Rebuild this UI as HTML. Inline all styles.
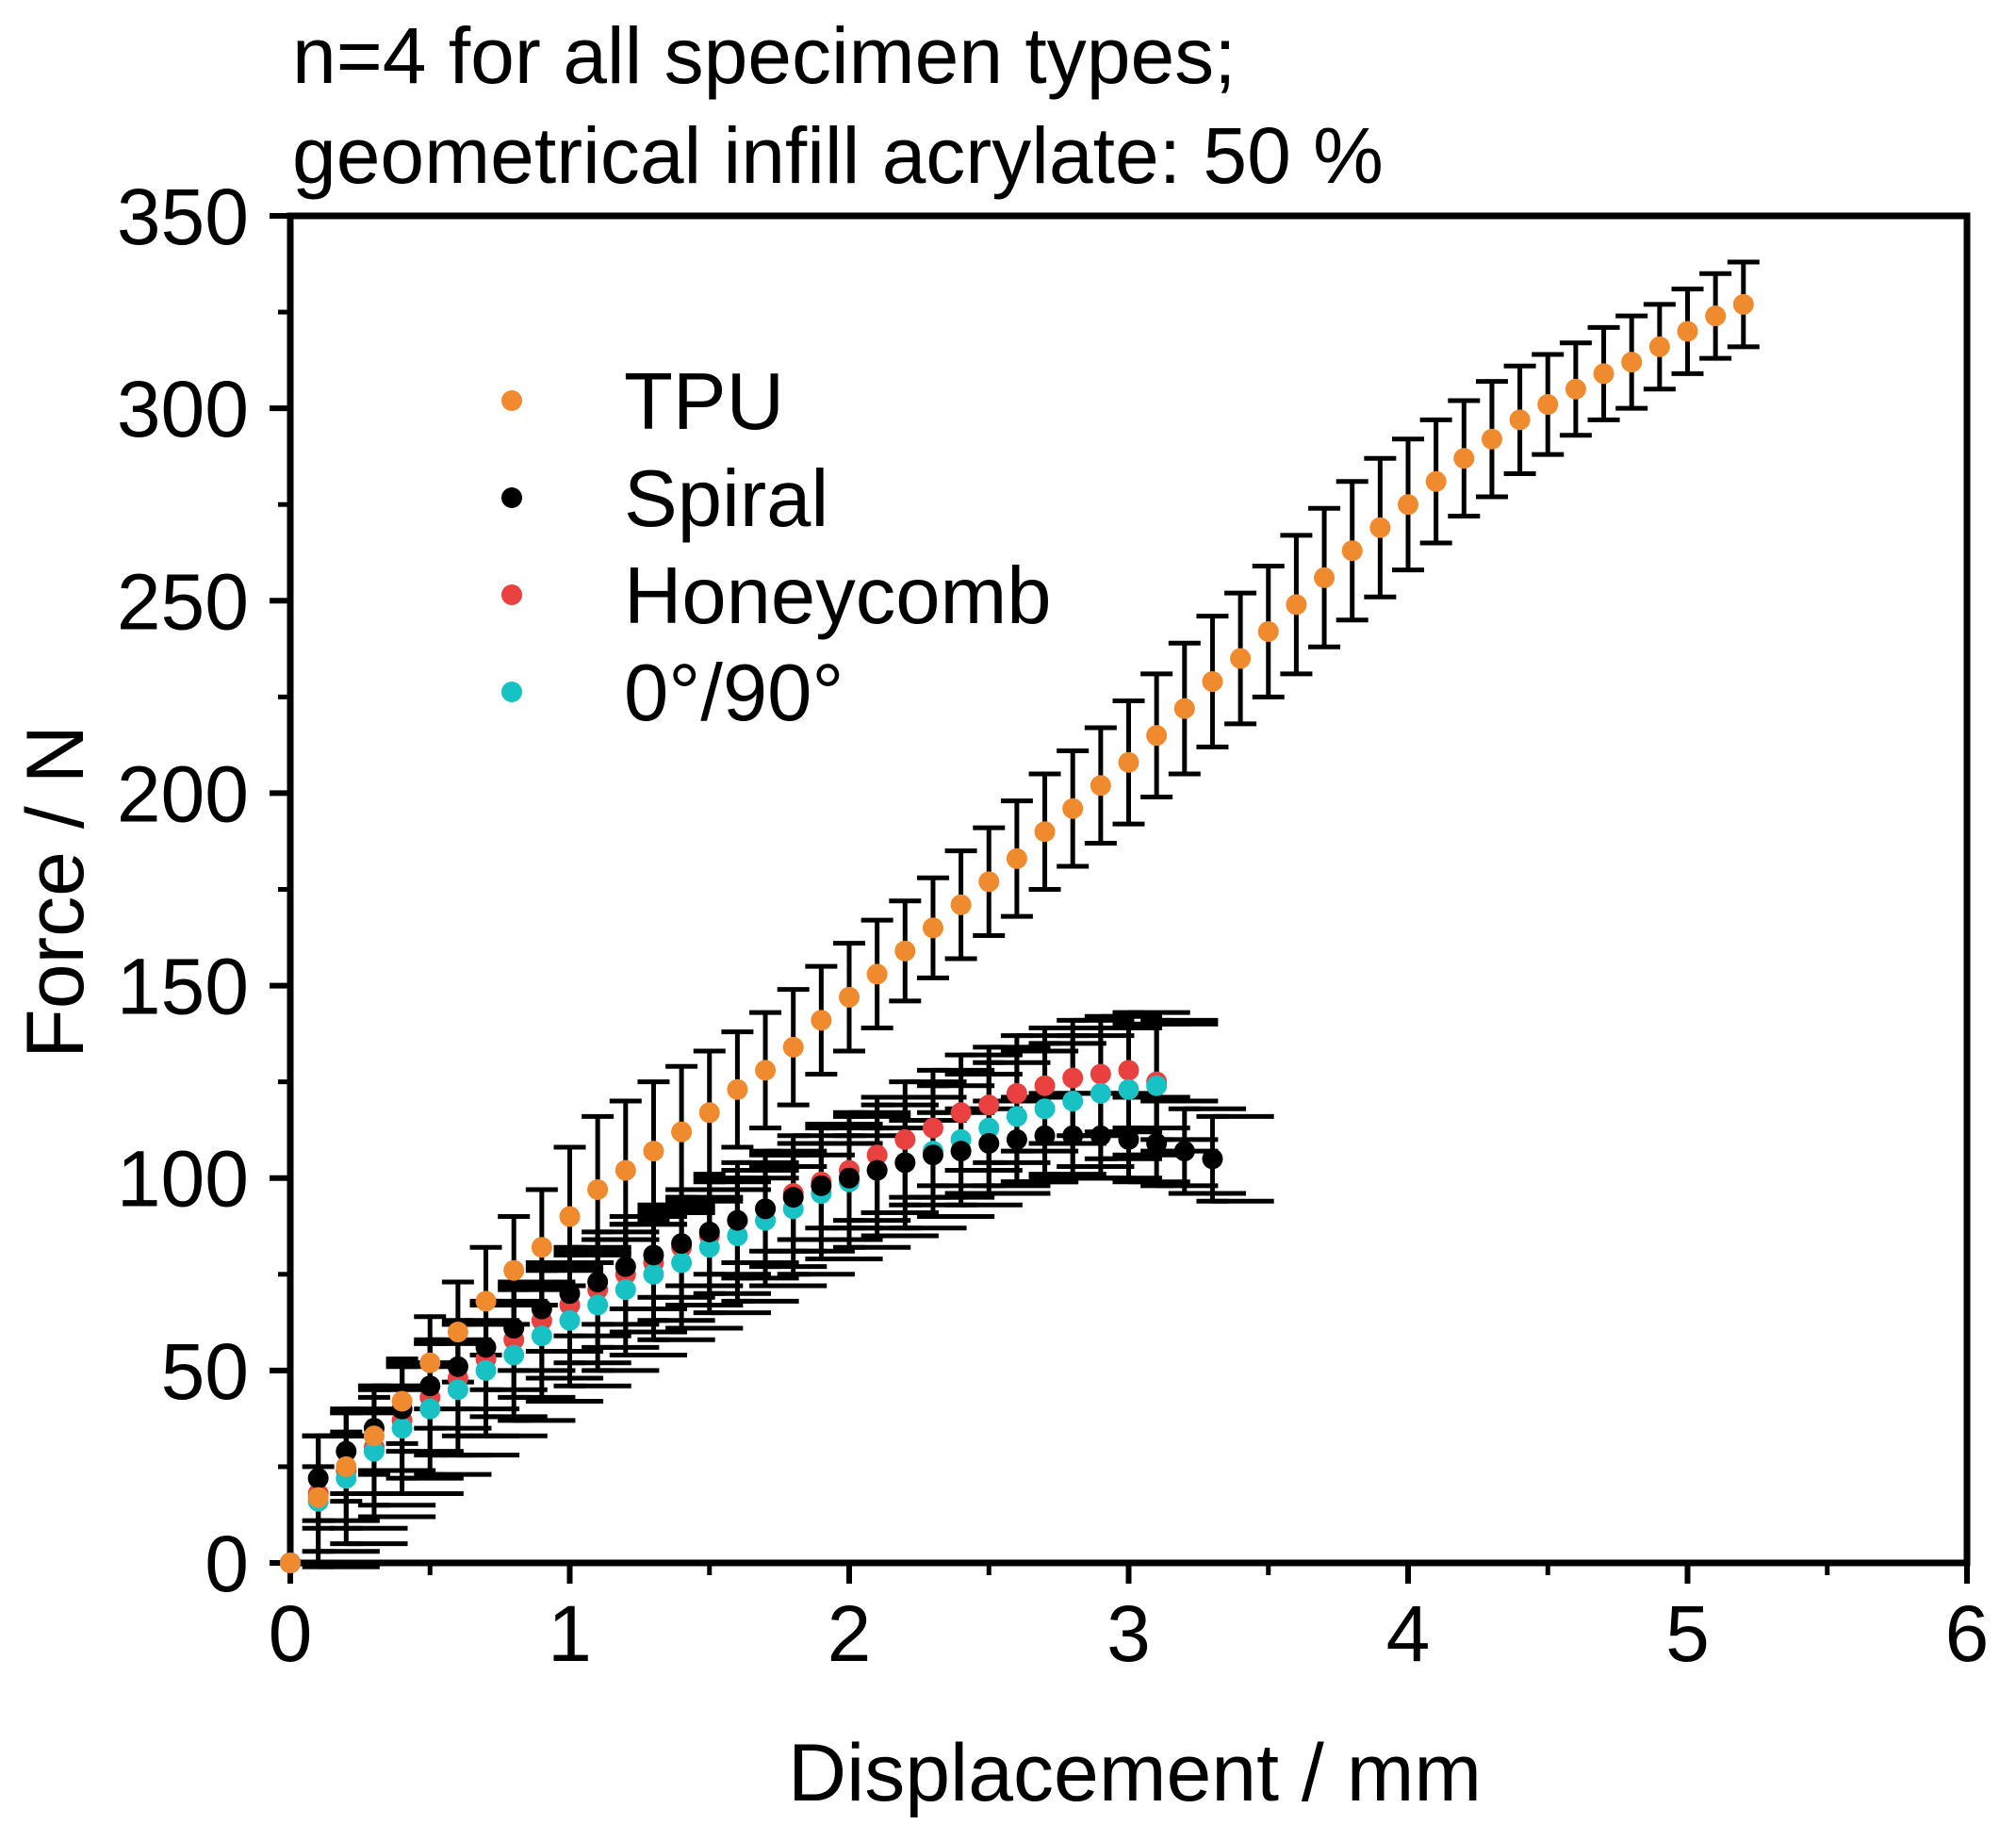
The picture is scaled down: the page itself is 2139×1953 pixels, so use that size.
<!DOCTYPE html>
<html><head><meta charset="utf-8"><style>
html,body{margin:0;padding:0;background:#fff;}
svg{display:block;font-family:"Liberation Sans",Arial,sans-serif;}
</style></head><body>
<svg id="chart" width="2139" height="1953" viewBox="0 0 2139 1953">
<text x="310" y="88" font-size="84">n=4 for all specimen types;</text>
<text x="310" y="194" font-size="84">geometrical infill acrylate: 50 %</text>
<g id="axes"></g>
<g id="marks"></g>
<g id="legend"></g>
<text x="1204" y="1910" font-size="86" text-anchor="middle">Displacement / mm</text>
<text transform="translate(88,946) rotate(-90)" font-size="86" text-anchor="middle">Force / N</text>
</svg>
<script>
const xTicks=[0,1,2,3,4,5,6];
const yTicks=[0,50,100,150,200,250,300,350];
const xsTPU=[0,0.1,0.2,0.3,0.4,0.5,0.6,0.7,0.8,0.9,1.0,1.1,1.2,1.3,1.4,1.5,1.6,1.7,1.8,1.9,2.0,2.1,2.2,2.3,2.4,2.5,2.6,2.7,2.8,2.9,3.0,3.1,3.2,3.3,3.4,3.5,3.6,3.7,3.8,3.9,4.0,4.1,4.2,4.3,4.4,4.5,4.6,4.7,4.8,4.9,5.0,5.1,5.2];
const tpu=[0,17,25,33,42,52,60,68,76,82,90,97,102,107,112,117,123,128,134,141,147,153,159,165,171,177,183,190,196,202,208,215,222,229,235,242,249,256,263,269,275,281,287,292,297,301,305,309,312,316,320,324,327];
const tpuErr=[0,8,9,10,11,12,13,14,14,15,18,19,18,18,17,16,15,15,15,14,14,14,13,13,14,14,15,15,15,15,16,16,17,17,17,17,18,18,18,18,17,16,15,15,14,13,12,12,12,11,11,11,11];
const xsSpiral=[0,0.1,0.2,0.3,0.4,0.5,0.6,0.7,0.8,0.9,1.0,1.1,1.2,1.3,1.4,1.5,1.6,1.7,1.8,1.9,2.0,2.1,2.2,2.3,2.4,2.5,2.6,2.7,2.8,2.9,3.0,3.1,3.2,3.3];
const spiral=[0,22,29,35,40,46,51,56,61,66,70,73,77,80,83,86,89,92,95,98,100,102,104,106,107,109,110,111,111,111,110,109,107,105];
const xsHoney=[0,0.1,0.2,0.3,0.4,0.5,0.6,0.7,0.8,0.9,1.0,1.1,1.2,1.3,1.4,1.5,1.6,1.7,1.8,1.9,2.0,2.1,2.2,2.3,2.4,2.5,2.6,2.7,2.8,2.9,3.0,3.1];
const honey=[0,18,24,30,37,43,48,53,58,63,67,71,75,78,82,85,89,92,96,99,102,106,110,113,117,119,122,124,126,127,128,125];
const xsOrtho=[0,0.1,0.2,0.3,0.4,0.5,0.6,0.7,0.8,0.9,1.0,1.1,1.2,1.3,1.4,1.5,1.6,1.7,1.8,1.9,2.0,2.1,2.2,2.3,2.4,2.5,2.6,2.7,2.8,2.9,3.0,3.1];
const ortho=[0,16,22,29,35,40,45,50,54,59,63,67,71,75,78,82,85,89,92,96,99,102,104,107,110,113,116,118,120,122,123,124];
const yErrSmall=11;
const xErrSmall=0.22;

const L=308,R=2087,T=229,B=1658;
const X=v=>L+(v/6)*(R-L);
const Y=v=>B-(v/350)*(B-T);
const NS="http://www.w3.org/2000/svg";
function mk(tag,parent,attrs){const e=document.createElementNS(NS,tag);for(const k in attrs)e.setAttribute(k,attrs[k]);parent.appendChild(e);return e;}
const axes=document.getElementById('axes');
let e=mk('rect',axes,{x:L,y:T,width:R-L,height:B-T,fill:'none',stroke:'#000','stroke-width':7});


xTicks.forEach(t=>{
 let l=mk('line',axes,{x1:X(t),x2:X(t),y1:B,y2:B+22,stroke:'#000','stroke-width':6});
 
 
 if(t<6){let m=mk('line',axes,{x1:X(t+0.5),x2:X(t+0.5),y1:B,y2:B+13,stroke:'#000','stroke-width':5});
 
 }
 let tx=mk('text',axes,{x:X(t),y:B+104,'font-size':84,'text-anchor':'middle'});tx.textContent=t;
 
 
});
yTicks.forEach(t=>{
 let l=mk('line',axes,{x1:L-22,x2:L,y1:Y(t),y2:Y(t),stroke:'#000','stroke-width':6});
 
 
 if(t<350){let m=mk('line',axes,{x1:L-13,x2:L,y1:Y(t+25),y2:Y(t+25),stroke:'#000','stroke-width':5});
 
 }
 let tx=mk('text',axes,{x:L-44,y:Y(t)+30,'font-size':84,'text-anchor':'end'});tx.textContent=t;
 
 
});
const marks=document.getElementById('marks');
function errs(xs,ys,yerr,xerr,name){
 const g=mk('g',marks,{stroke:'#000','stroke-width':5});
 
 
 xs.forEach((x,i)=>{if(i===0)return;
  const ye=Array.isArray(yerr)?yerr[i]:yerr;
  mk('line',g,{x1:X(x),x2:X(x),y1:Y(ys[i]-ye),y2:Y(ys[i]+ye)});
  mk('line',g,{x1:X(x)-17,x2:X(x)+17,y1:Y(ys[i]-ye),y2:Y(ys[i]-ye)});
  mk('line',g,{x1:X(x)-17,x2:X(x)+17,y1:Y(ys[i]+ye),y2:Y(ys[i]+ye)});
  if(xerr){mk('line',g,{x1:X(x),x2:X(x+xerr),y1:Y(ys[i]+ye),y2:Y(ys[i]+ye)});
   mk('line',g,{x1:X(x),x2:X(x+xerr),y1:Y(ys[i]-ye),y2:Y(ys[i]-ye)});}
 });
}
function dots(xs,ys,color,name){
 const g=mk('g',marks,{fill:color});
 
 
 xs.forEach((x,i)=>{const c=mk('circle',g,{cx:X(x),cy:Y(ys[i]),r:11});
  
  });
}
errs(xsSpiral,spiral,yErrSmall,xErrSmall,'spiral');
errs(xsHoney,honey,yErrSmall+4,xErrSmall,'honeycomb');
errs(xsOrtho,ortho,yErrSmall+6,xErrSmall,'ortho');
errs(xsTPU,tpu,tpuErr,0,'tpu');
dots(xsHoney,honey,'#e8413f','honeycomb');
dots(xsOrtho,ortho,'#17c1c4','ortho');
dots(xsSpiral,spiral,'#000','spiral');
dots(xsTPU,tpu,'#ef8a2e','tpu');
const legend=document.getElementById('legend');
const legNames=['TPU','Spiral','Honeycomb','0°/90°'];
const legColors=['#ef8a2e','#000','#e8413f','#17c1c4'];
legNames.forEach((n,i)=>{
 const y=425+i*103;
 const c=mk('circle',legend,{cx:543,cy:y,r:11,fill:legColors[i]});
 
 
 const t=mk('text',legend,{x:662,y:y+30,'font-size':85});t.textContent=n;
 
 
});
</script>
</body></html>
